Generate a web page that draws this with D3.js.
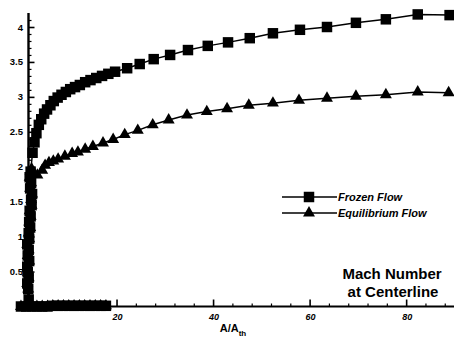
<!DOCTYPE html>
<html>
<head>
<meta charset="utf-8">
<script src="https://cdn.jsdelivr.net/npm/d3@7"></script>
<style>
  body { margin: 0; background: #fff; }
  svg { display: block; font-family: "Liberation Sans", Arial, sans-serif; }
</style>
</head>
<body>
<div id="chart"></div>
<script>
// Mach number along the nozzle centerline, frozen vs equilibrium flow

var width = 454;
var height = 338;

// axis ticks
var xTicks = [20, 40, 60, 80];
var yTicks = [0, 0.5, 1, 1.5, 2, 2.5, 3, 3.5, 4];
var yTickLabels = ["0", "0.5", "1", "1.5", "2", "2.5", "3", "3.5", "4"];

// converging part and throat region (shared by both series)
var inletX = [17.8, 16.7, 15.6, 14.5, 13.4, 12.3, 11.2, 10.1, 9.0, 7.9, 6.8, 5.7, 4.6, 3.5, 2.4, 1.3, 0.2, 1.8];
var inletM = [0.01, 0.01, 0.01, 0.01, 0.01, 0.01, 0.01, 0.01, 0.01, 0.01, 0.01, 0.0, 0.0, 0.0, 0.0, 0.0, 0.0, 0.1];
var throatX = [1.7, 1.5, 1.8, 1.6, 1.5, 1.9, 1.6, 1.8, 1.5, 1.9, 1.8, 2.1, 1.9, 2.2, 2.0, 2.4, 2.3, 2.5, 2.1, 2.3, 2.0, 2.2];
var throatM = [0.25, 0.33, 0.41, 0.49, 0.57, 0.65, 0.73, 0.81, 0.89, 0.97, 1.05, 1.13, 1.21, 1.29, 1.37, 1.45, 1.53, 1.61, 1.69, 1.77, 1.85, 1.93];

// frozen flow, diverging part
var frozenX = [2.6, 3.0, 3.4, 3.9, 4.4, 5.0, 5.6, 6.3, 7.0, 7.8, 8.6, 9.5, 10.4, 11.4, 12.4, 13.5, 14.6, 15.8, 17.0, 18.3, 19.7,
               22.2, 24.8, 27.7, 31.1, 34.8, 38.9, 43.1, 47.6, 52.4, 58.0, 63.6, 69.6, 75.8, 82.4, 89.0];
var frozenM = [2.2, 2.35, 2.48, 2.6, 2.68, 2.76, 2.82, 2.88, 2.94, 2.99, 3.03, 3.07, 3.11, 3.14, 3.17, 3.21, 3.24, 3.27, 3.3, 3.33, 3.36,
               3.41, 3.47, 3.54, 3.6, 3.67, 3.73, 3.78, 3.84, 3.91, 3.96, 4.0, 4.06, 4.11, 4.18, 4.17];

// equilibrium flow, diverging part
var equilX = [2.4, 3.6, 4.6, 5.2, 6.0, 6.9, 7.9, 9.3, 10.8, 12.0, 13.5, 15.1, 17.2, 19.3, 21.7, 24.4, 27.5, 30.8, 34.6,
              38.7, 42.9, 47.4, 52.4, 57.8, 63.6, 69.6, 75.8, 82.4, 88.8];
var equilM = [1.97, 1.88, 1.95, 2.02, 2.06, 2.08, 2.11, 2.15, 2.19, 2.21, 2.25, 2.29, 2.34, 2.39, 2.46, 2.52, 2.6, 2.67, 2.74,
              2.79, 2.83, 2.88, 2.91, 2.95, 2.98, 3.01, 3.03, 3.07, 3.06];

var xMin = 1.76;
var xMax = 89.5;
var yMax = 4.2;

var x = d3.scaleLinear().domain([0, 89.5]).range([20, 452]);
var y = d3.scaleLinear().domain([0, 4]).range([306.5, 27]);

function makePoints(xs, ms){
  var pts = [];
  for (var i = 0; i < xs.length; i++){
    pts.push({x_val: xs[i], m_val: ms[i]});
  }
  return pts;
}

var shared = makePoints(inletX, inletM).concat(makePoints(throatX, throatM));
var frozen = shared.concat(makePoints(frozenX, frozenM));
var equil = shared.concat(makePoints(equilX, equilM));

var svg = d3.select("#chart").append("svg")
            .attr("width", width)
            .attr("height", height);

svg.append("defs").append("clipPath").attr("id", "clip")
   .append("rect").attr("x", 0).attr("y", 0).attr("width", width).attr("height", height);

// x axis, ticks pointing up
var xAxis = d3.axisTop(x).tickValues(d3.range(4, 89, 4)).tickSize(3).tickFormat("");
var gx = svg.append("g").attr("transform", "translate(0," + y(0) + ")").call(xAxis);
gx.select(".domain").remove();
gx.selectAll(".tick line").attr("stroke", "#000").attr("stroke-width", 1.2);
gx.selectAll(".tick").filter(function(d){ return d % 20 === 0; })
  .select("line").attr("y2", -7).attr("stroke-width", 1.6);
svg.append("line")
   .attr("x1", x(xMin)).attr("x2", x(xMax) + 2)
   .attr("y1", y(0)).attr("y2", y(0))
   .attr("stroke", "#000").attr("stroke-width", 1.8);

svg.selectAll(".xlab").data(xTicks).enter().append("text")
   .attr("class", "xlab")
   .attr("x", function(d){ return x(d) + 1; })
   .attr("y", 320)
   .attr("text-anchor", "middle")
   .style("font-size", "9px").style("font-weight", "bold").style("font-style", "italic")
   .text(function(d){ return d; });

// y axis, ticks pointing right
var yAxis = d3.axisRight(y).tickValues(d3.range(0, 42, 1).map(function(d){ return d / 10; })).tickSize(3).tickFormat("");
var gy = svg.append("g").attr("transform", "translate(" + x(xMin) + ",0)").call(yAxis);
gy.select(".domain").remove();
gy.selectAll(".tick line").attr("stroke", "#000").attr("stroke-width", 1.2);
gy.selectAll(".tick").filter(function(d){ return Math.abs(d * 2 - Math.round(d * 2)) < 1e-6; })
  .select("line").attr("x2", 6).attr("stroke-width", 1.6);
svg.append("line")
   .attr("x1", x(xMin)).attr("x2", x(xMin))
   .attr("y1", y(0)).attr("y2", y(yMax))
   .attr("stroke", "#000").attr("stroke-width", 2.4);

svg.selectAll(".ylab").data(yTicks).enter().append("text")
   .attr("class", "ylab")
   .attr("x", 23)
   .attr("y", function(d){ return y(d) + 3.5; })
   .attr("text-anchor", "end")
   .style("font-size", "9.5px").style("font-weight", "bold")
   .text(function(d, i){ return yTickLabels[i]; });

// axis title A/A_th
var title = svg.append("text").attr("x", 233).attr("y", 332).attr("text-anchor", "middle")
   .style("font-size", "11px").style("font-weight", "bold");
title.append("tspan").text("A/A");
title.append("tspan").attr("dy", 4).style("font-size", "8px").text("th");

// series
var line = d3.line()
  .x(function(d){ return x(d.x_val); })
  .y(function(d){ return y(d.m_val); });

var plot = svg.append("g").attr("clip-path", "url(#clip)");

plot.append("path").datum(frozen).attr("d", line)
    .attr("fill", "none").attr("stroke", "#000").attr("stroke-width", 1.5);
plot.append("path").datum(equil).attr("d", line)
    .attr("fill", "none").attr("stroke", "#000").attr("stroke-width", 1.5);

var square = d3.symbol().type(d3.symbolSquare).size(110);
var triangle = d3.symbol().type(d3.symbolTriangle).size(62);

plot.selectAll(".sq").data(frozen).enter().append("path")
    .attr("class", "sq")
    .attr("d", square)
    .attr("transform", function(d){ return "translate(" + x(d.x_val) + "," + y(d.m_val) + ")"; })
    .attr("fill", "#000");

plot.selectAll(".tri").data(equil).enter().append("path")
    .attr("class", "tri")
    .attr("d", triangle)
    .attr("transform", function(d){ return "translate(" + x(d.x_val) + "," + y(d.m_val) + ")"; })
    .attr("fill", "#000");

// legend
var legendItems = [
  {label: "Frozen Flow", symbol: square, yPos: 197},
  {label: "Equilibrium Flow", symbol: triangle, yPos: 213}
];
var lg = svg.selectAll(".legend").data(legendItems).enter().append("g").attr("class", "legend");
lg.append("line")
  .attr("x1", 282).attr("x2", 337)
  .attr("y1", function(d){ return d.yPos; }).attr("y2", function(d){ return d.yPos; })
  .attr("stroke", "#000").attr("stroke-width", 1.3);
lg.append("path")
  .attr("d", function(d){ return d.symbol(); })
  .attr("transform", function(d){ return "translate(309," + d.yPos + ")"; })
  .attr("fill", "#000");
lg.append("text")
  .attr("x", 338)
  .attr("y", function(d){ return d.yPos + 4; })
  .style("font-size", "11px").style("font-weight", "bold").style("font-style", "italic")
  .text(function(d){ return d.label; });

// annotation
svg.append("text").attr("x", 392).attr("y", 279).attr("text-anchor", "middle")
   .style("font-size", "15px").style("font-weight", "bold").text("Mach Number");
svg.append("text").attr("x", 393).attr("y", 297).attr("text-anchor", "middle")
   .style("font-size", "15px").style("font-weight", "bold").text("at Centerline");
</script>
</body>
</html>
